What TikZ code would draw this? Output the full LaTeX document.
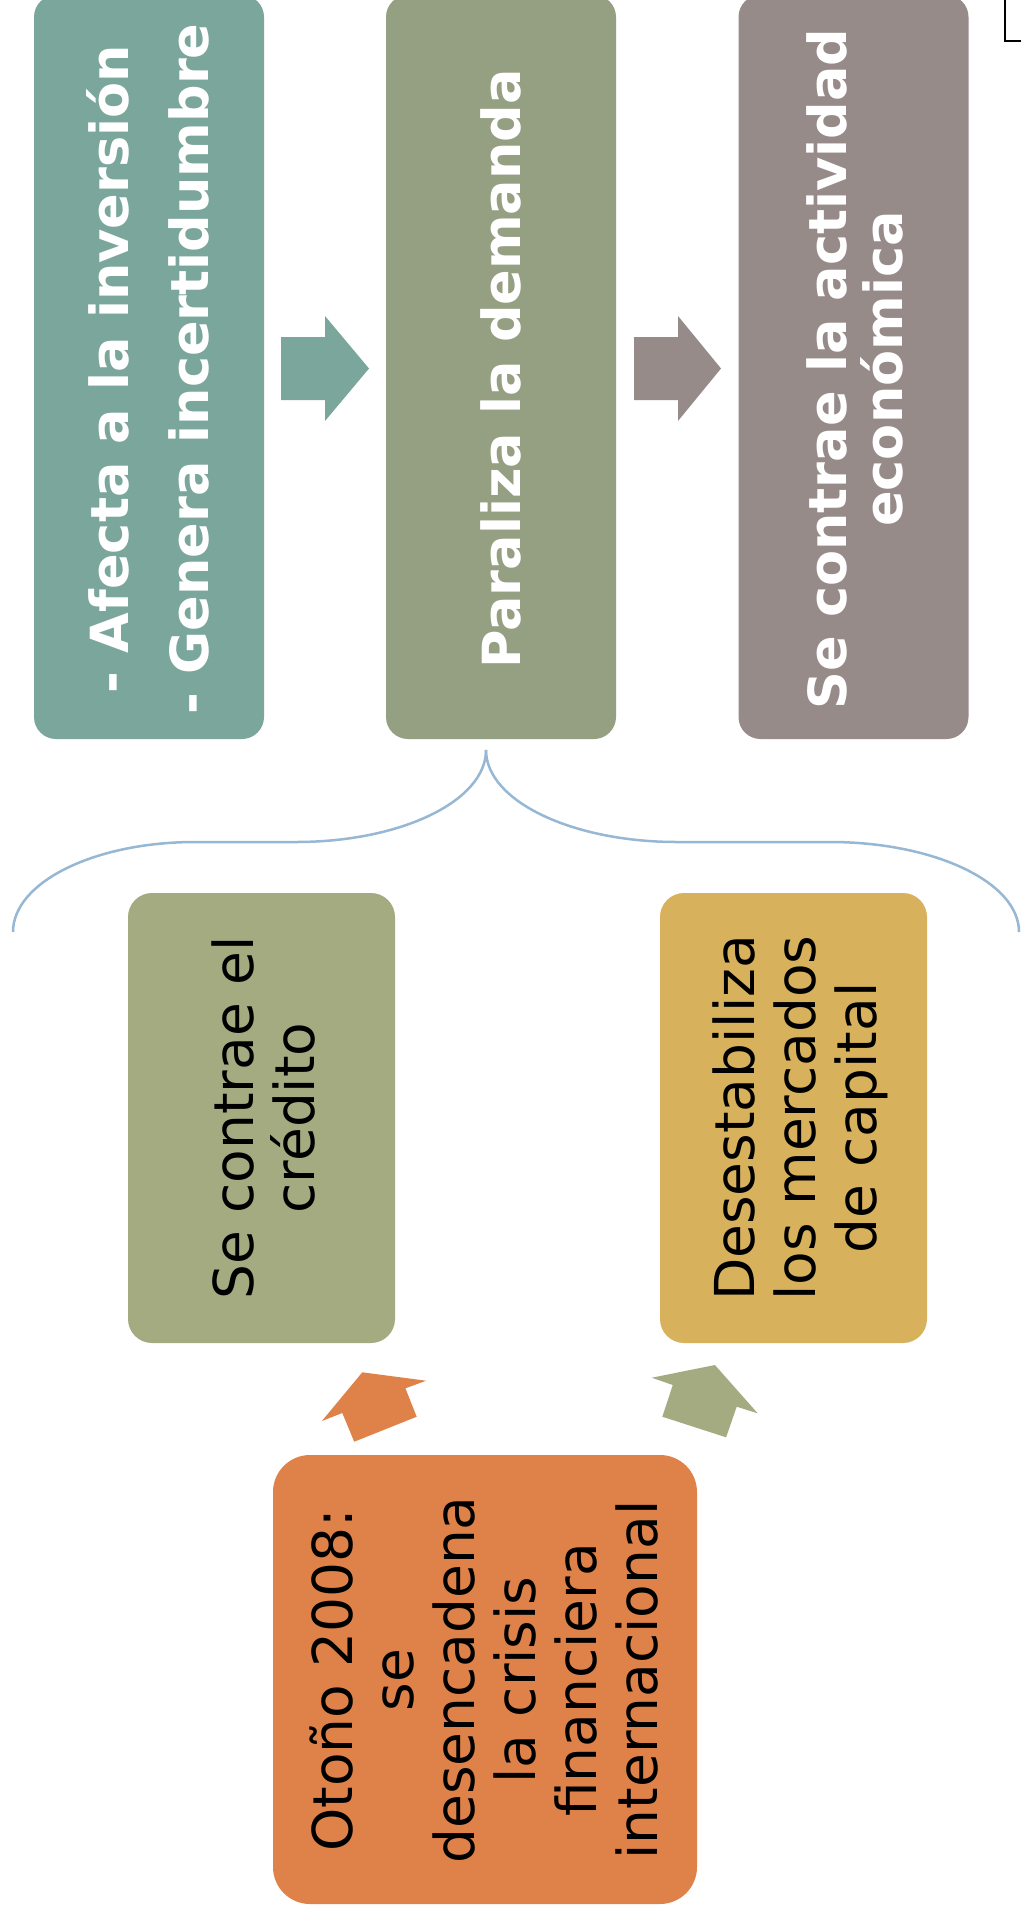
\documentclass[tikz,border=0pt]{standalone}
\usepackage{fontspec}
\newfontfamily\dvs{DejaVu Sans}
\definecolor{cteal}{RGB}{122,166,156}
\definecolor{colive}{RGB}{149,159,130}
\definecolor{cmauve}{RGB}{151,139,138}
\definecolor{cgreen}{RGB}{164,171,129}
\definecolor{cgold}{RGB}{216,177,92}
\definecolor{corange}{RGB}{223,130,74}
\definecolor{cbrace}{RGB}{150,184,212}
\begin{document}
\begin{tikzpicture}[x=1pt,y=-1pt,
  topbox/.style={inner sep=0pt, outer sep=0pt, minimum width=230pt, minimum height=744pt, rounded corners=22pt},
  midbox/.style={inner sep=0pt, outer sep=0pt, minimum width=267pt, minimum height=450pt, rounded corners=24pt},
  botbox/.style={inner sep=0pt, outer sep=0pt, minimum width=424pt, minimum height=449pt, rounded corners=37pt},
  boldtxt/.style={rotate=90, anchor=base, inner sep=0pt, text=white, font=\dvs\bfseries\fontsize{52.5}{60}\selectfont},
  regtxt/.style={rotate=90, anchor=base, inner sep=0pt, text=black, font=\dvs\fontsize{55}{61}\selectfont},
  brace/.style={draw=cbrace, line width=2.5pt}
]
\useasboundingbox (0,0) rectangle (1020,1914);
\fill[white] (0,0) rectangle (1020,1914);

% top-right partial frame
\draw[black, line width=1.5pt, fill=white] (1005,-10) rectangle (1030,41);

% top row boxes
\node[topbox, fill=cteal]  (b1) at (149,367) {};
\node[topbox, fill=colive] (b2) at (501,367) {};
\node[topbox, fill=cmauve] (b3) at (853.5,367) {};

\node[boldtxt] (t1a) at (128,369) {- Afecta a la inversión};
\node[boldtxt] (t1b) at (208,369) {- Genera incertidumbre};
\node[boldtxt] (t2)  at (520,369) {Paraliza la demanda};
\node[boldtxt] (t3a) at (846,369) {Se contrae la actividad};
\node[boldtxt] (t3b) at (902,369) {económica};

% block arrows top row
\fill[cteal] (281,337) -- (325,337) -- (325,316) -- (369,368.5) -- (325,421) -- (325,400) -- (281,400) -- cycle;
\fill[cmauve] (634,337) -- (678,337) -- (678,316) -- (721,368.5) -- (678,421) -- (678,400) -- (634,400) -- cycle;

% brace
\coordinate (tip) at (486,750);
\coordinate (bl) at (13,932);
\coordinate (br) at (1019,932);
\draw[brace] (tip) .. controls (486,801) and (401,842) .. (296,842) -- (195,842)
  .. controls (95,842) and (13,882) .. (bl);
\draw[brace] (tip) .. controls (486,801) and (572,842) .. (677,842) -- (830,842)
  .. controls (934,842) and (1019,882) .. (br);

% middle boxes
\node[midbox, fill=cgreen] (b4) at (261.5,1118) {};
\node[midbox, fill=cgold]  (b5) at (793.5,1118) {};
\node[regtxt] (t4a) at (253,1118) {Se contrae el};
\node[regtxt] (t4b) at (314,1118) {crédito};
\node[regtxt] (t5a) at (754,1118) {Desestabiliza};
\node[regtxt] (t5b) at (815,1118) {los mercados};
\node[regtxt] (t5c) at (876,1118) {de capital};

% bottom arrows
\fill[corange] (362.3,1372.3) -- (426.1,1380.7) -- (405.4,1388.3) -- (416.7,1416.7)
  -- (354.2,1441.7) -- (342.3,1413) -- (321.9,1421) -- cycle;
\fill[cgreen] (714.9,1365) -- (757.7,1413.3) -- (736.7,1406.7) -- (726.1,1437.3)
  -- (662.3,1416.7) -- (672.8,1385) -- (651.8,1377.7) -- cycle;

% bottom box
\node[botbox, fill=corange] (b6) at (485,1679.5) {};
\node[regtxt] (t6a) at (352.5,1680) {Otoño 2008:};
\node[regtxt] (t6b) at (413.5,1680) {se};
\node[regtxt] (t6c) at (474.5,1680) {desencadena};
\node[regtxt] (t6d) at (535.5,1680) {la crisis};
\node[regtxt] (t6e) at (596.5,1680) {financiera};
\node[regtxt] (t6f) at (657.5,1680) {internacional};
\end{tikzpicture}
\end{document}
